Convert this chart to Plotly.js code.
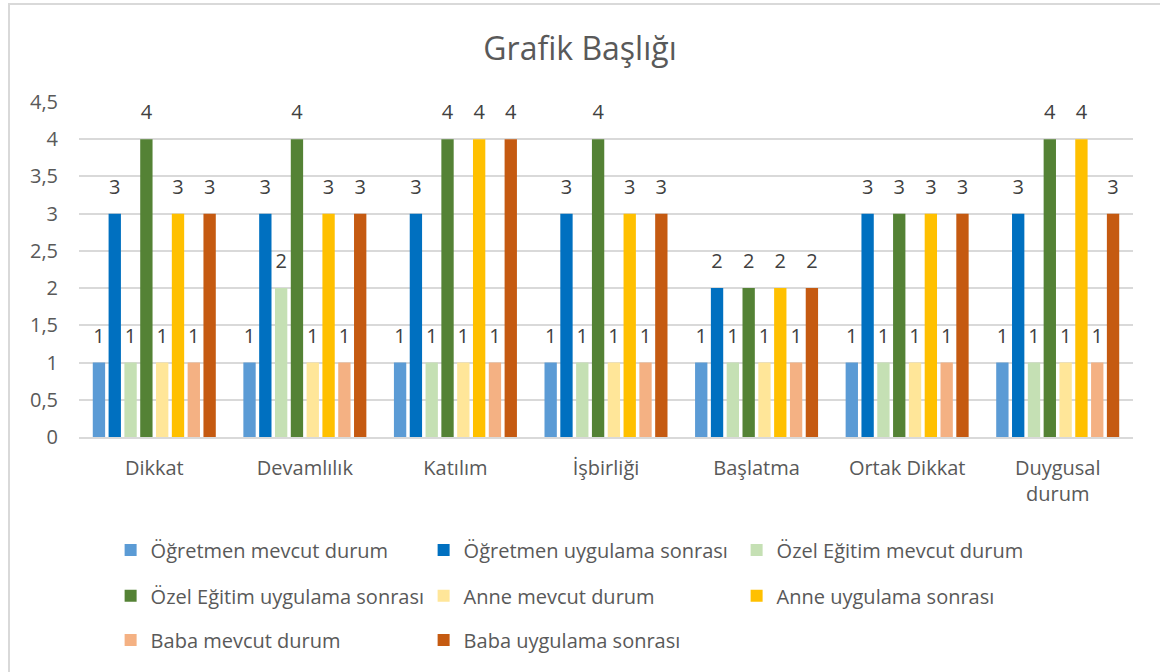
<!DOCTYPE html>
<html>
<head>
<meta charset="utf-8">
<script src="https://cdn.plot.ly/plotly-3.0.1.min.js"></script>
<style>
  html, body { margin: 0; padding: 0; overflow: hidden; background: #fff; }
  #wrap { position: relative; width: 1160px; height: 672px; }
  #chart { width: 1160px; height: 672px; }
  #frame { position: absolute; left: 8px; top: 3px; width: 1300px; height: 800px;
           border-top: 2px solid #d9d9d9; border-left: 2px solid #d9d9d9; pointer-events: none; }
</style>
</head>
<body>
<div id="wrap"><div id="chart"></div><div id="frame"></div></div>
<script>
const categories = ["Dikkat", "Devamlılık", "Katılım", "İşbirliği", "Başlatma", "Ortak Dikkat", "Duygusal<br>durum"];
const seriesNames = [
  "Öğretmen mevcut durum", "Öğretmen uygulama sonrası", "Özel Eğitim mevcut durum",
  "Özel Eğitim uygulama sonrası", "Anne mevcut durum", "Anne uygulama sonrası",
  "Baba mevcut durum", "Baba uygulama sonrası"
];
const ogretmenMevcut   = [1, 1, 1, 1, 1, 1, 1];
const ogretmenSonrasi  = [3, 3, 3, 3, 2, 3, 3];
const ozelMevcut       = [1, 2, 1, 1, 1, 1, 1];
const ozelSonrasi      = [4, 4, 4, 4, 2, 3, 4];
const anneMevcut       = [1, 1, 1, 1, 1, 1, 1];
const anneSonrasi      = [3, 3, 4, 3, 2, 3, 4];
const babaMevcut       = [1, 1, 1, 1, 1, 1, 1];
const babaSonrasi      = [3, 3, 4, 3, 2, 3, 3];
const yTickVals = [0, 0.5, 1, 1.5, 2, 2.5, 3, 3.5, 4, 4.5];

const seriesValues = [ogretmenMevcut, ogretmenSonrasi, ozelMevcut, ozelSonrasi,
                      anneMevcut, anneSonrasi, babaMevcut, babaSonrasi];
const colors = ["#5B9BD5", "#0070C0", "#C5E0B4", "#548235", "#FFE699", "#FFC000", "#F4B183", "#C55A11"];
const legendOf = ["legend", "legend", "legend", "legend2", "legend2", "legend2", "legend3", "legend3"];

const FONT = "Open Sans, sans-serif";
const BARGAP = 0.16;

const barTraces = seriesValues.map((vals, i) => ({
  type: "bar",
  name: seriesNames[i],
  x: categories,
  y: vals,
  offsetgroup: "g" + i,
  marker: { color: colors[i], line: { width: 0 } },
  legend: legendOf[i],
  hoverinfo: "x+y+name"
}));

const labelTraces = seriesValues.map((vals, i) => ({
  type: "scatter",
  mode: "markers+text",
  name: seriesNames[i],
  x: categories,
  y: vals,
  offsetgroup: "g" + i,
  text: vals.map(v => String(v)),
  textposition: "top center",
  textfont: { family: FONT, size: 20, color: "#404040" },
  marker: { size: 22, opacity: 0 },
  cliponaxis: false,
  showlegend: false,
  hoverinfo: "skip"
}));

function legendAt(y) {
  return {
    orientation: "h", x: 0.030, xanchor: "left", y: y, yanchor: "middle",
    entrywidth: 268, entrywidthmode: "pixels", itemwidth: 30,
    font: { family: FONT, size: 20, color: "#595959" },
    bgcolor: "rgba(0,0,0,0)", traceorder: "normal"
  };
}

const layout = {
  width: 1160, height: 672,
  margin: { l: 79, r: 27, t: 102, b: 235 },
  paper_bgcolor: "#ffffff", plot_bgcolor: "#ffffff",
  separators: ",.",
  title: { text: "Grafik Başlığı", x: 0.5, xanchor: "center", y: 0.928, yanchor: "middle",
           font: { family: FONT, size: 32, color: "#595959" } },
  barmode: "group", bargap: BARGAP, bargroupgap: 0.22,
  scattermode: "group", scattergap: BARGAP,
  xaxis: {
    type: "category", showgrid: false, showline: true, linecolor: "#d9d9d9", linewidth: 1.5,
    ticks: "", ticklabelstandoff: 12, tickfont: { family: FONT, size: 20, color: "#595959" }, fixedrange: true
  },
  yaxis: {
    range: [0, 4.5], tickvals: yTickVals, showgrid: true, gridcolor: "#d9d9d9", gridwidth: 1.5,
    zeroline: false, showline: false, ticks: "", ticklabelstandoff: 20,
    tickfont: { family: FONT, size: 20, color: "#595959" }, fixedrange: true
  },
  legend: legendAt(-0.337),
  legend2: legendAt(-0.474),
  legend3: legendAt(-0.606),
  showlegend: true
};

Plotly.newPlot("chart", barTraces.concat(labelTraces), layout, { displayModeBar: false });
</script>
</body>
</html>
